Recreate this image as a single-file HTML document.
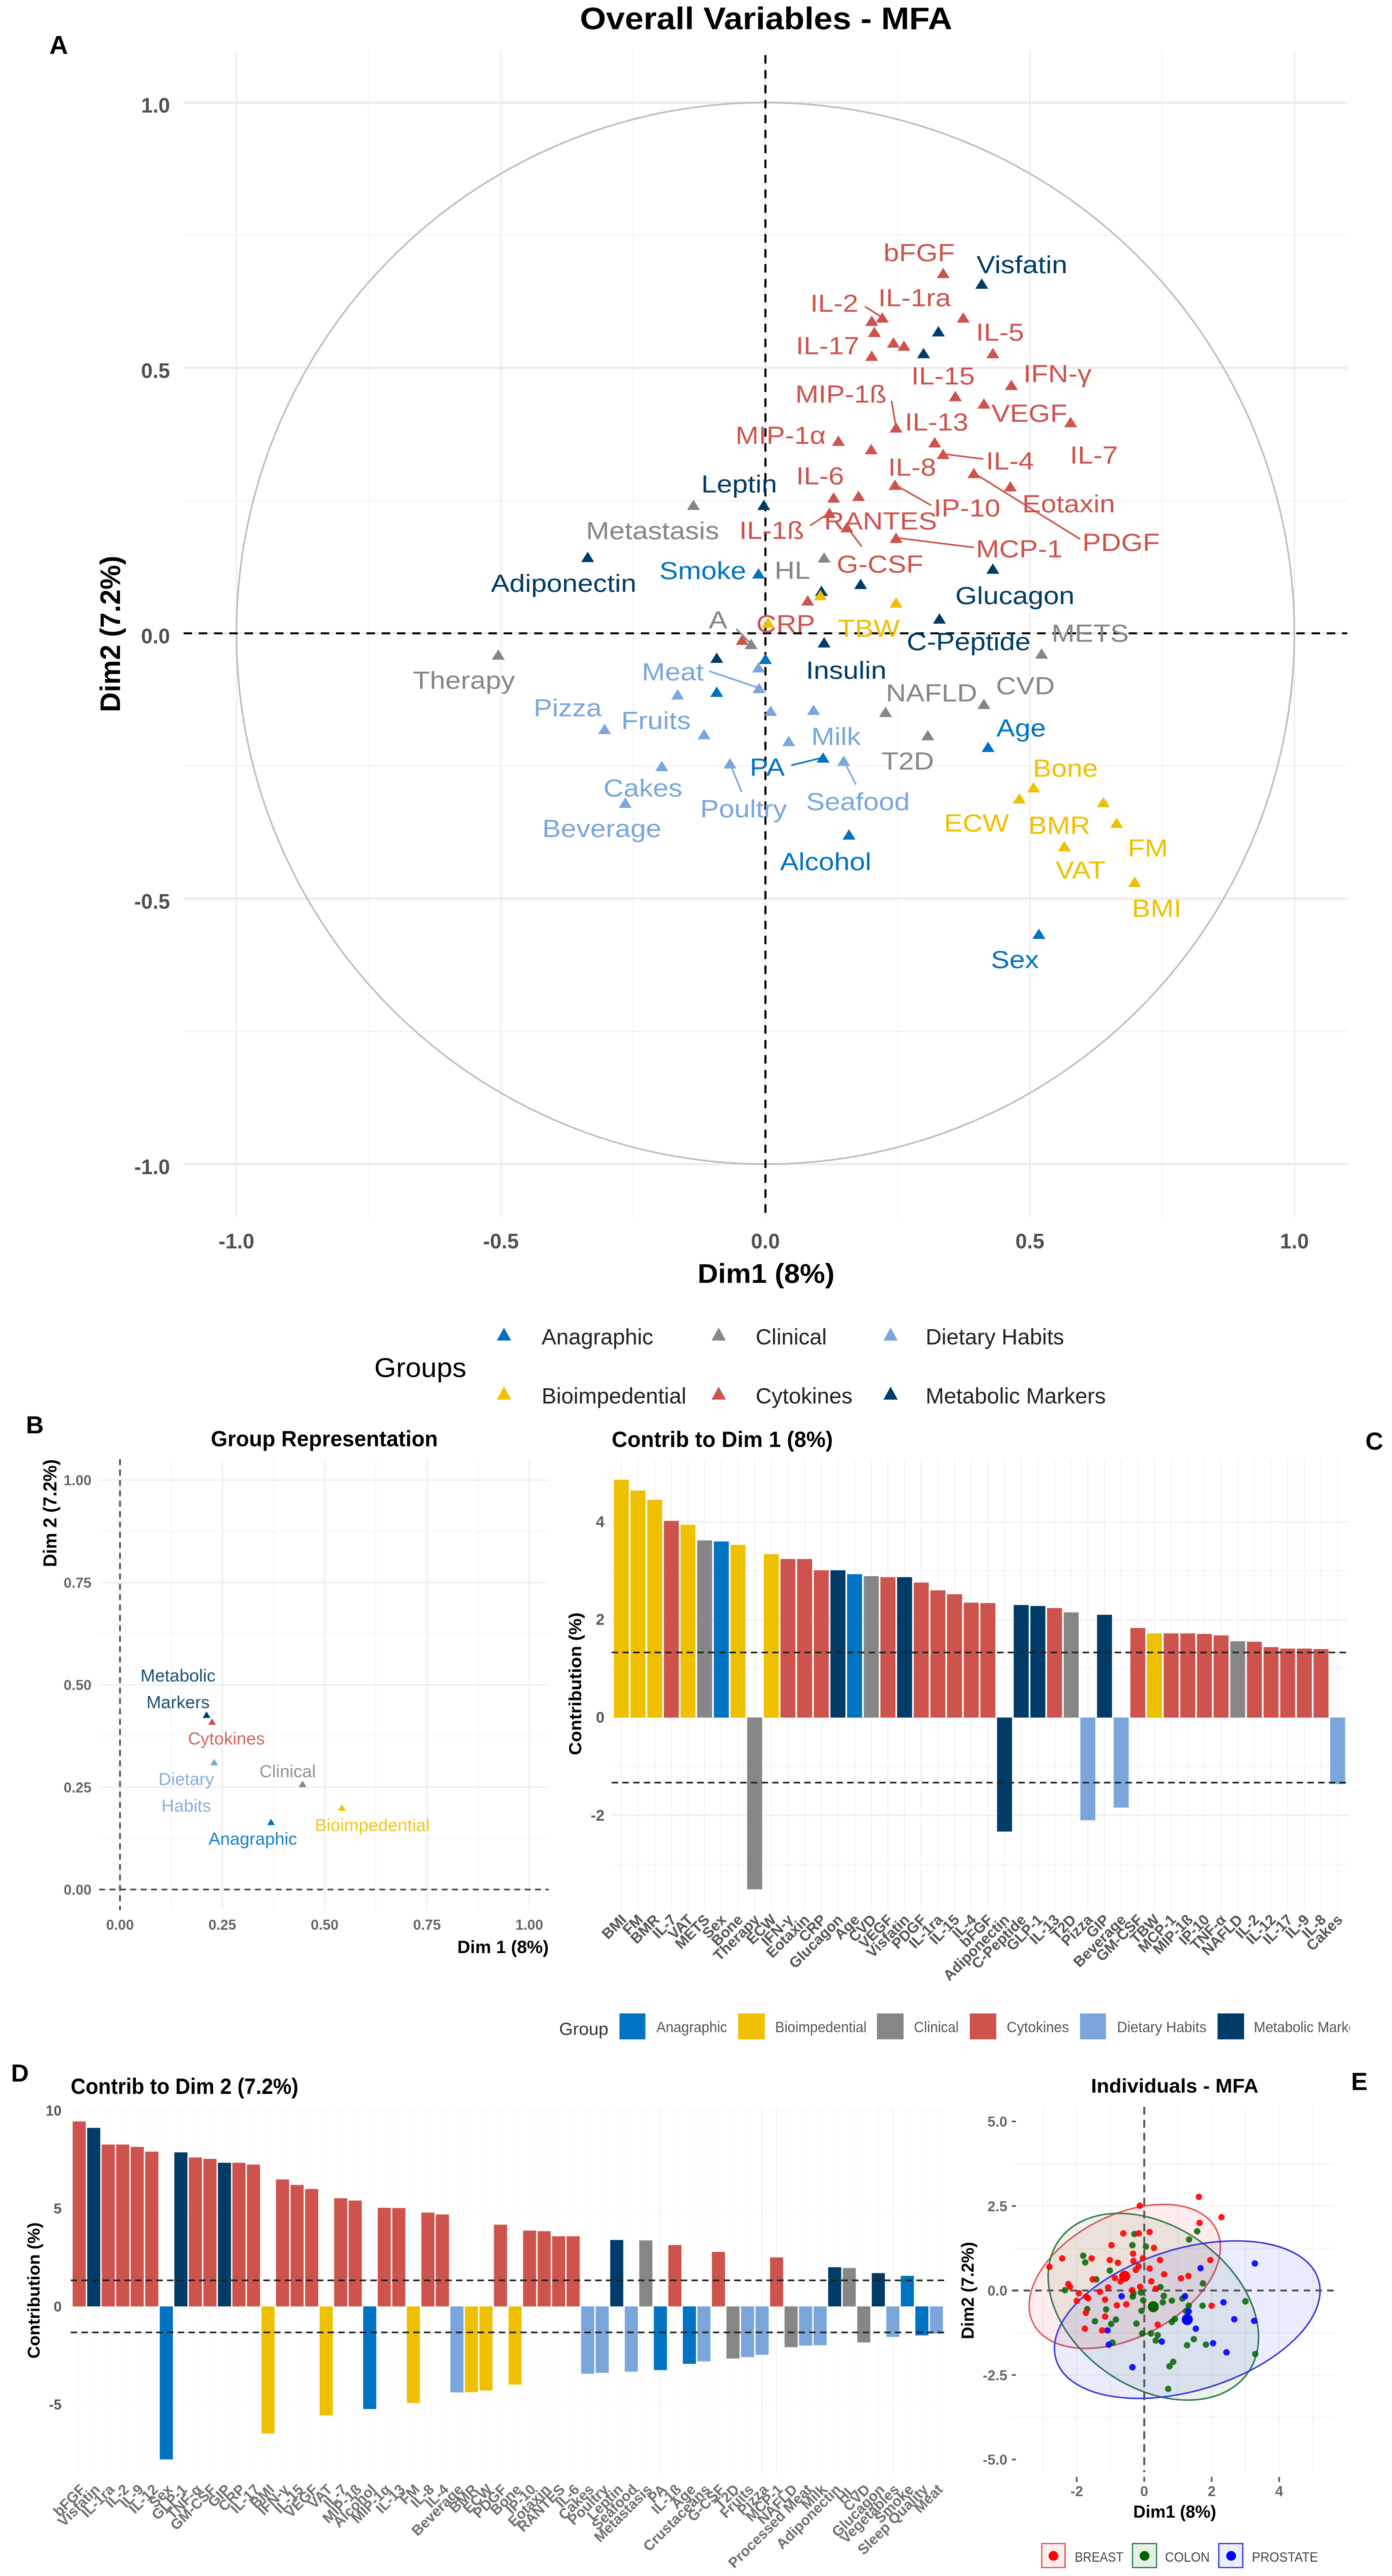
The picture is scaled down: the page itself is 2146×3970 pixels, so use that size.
<!DOCTYPE html>
<html lang="en">
<head>
<meta charset="utf-8">
<title>MFA figure</title>
<style>
html,body{margin:0;padding:0;background:#fff}
svg{display:block;font-family:"Liberation Sans",sans-serif;filter:blur(0.5px)}
</style>
</head>
<body>
<svg id="fig" xmlns="http://www.w3.org/2000/svg" width="2146" height="3970" viewBox="0 0 2146 3970">
<defs><clipPath id="legend-clip"><rect x="850" y="3090" width="1231" height="70"/></clipPath></defs>
<rect width="2146" height="3970" fill="#fff"/>

<g id="panelA"></g>
<text x="1181" y="45" text-anchor="middle" font-size="48" font-weight="bold" textLength="574" lengthAdjust="spacingAndGlyphs">Overall Variables - MFA</text>
<text x="76" y="83" font-size="40" font-weight="bold">A</text>
<text transform="translate(185,977) rotate(-90)" text-anchor="middle" font-size="44" font-weight="bold" textLength="241" lengthAdjust="spacingAndGlyphs">Dim2 (7.2%)</text>
<text x="1181" y="1977" text-anchor="middle" font-size="42" font-weight="bold" textLength="211" lengthAdjust="spacingAndGlyphs">Dim1 (8%)</text>
<text x="577" y="2122" font-size="42" textLength="142" lengthAdjust="spacingAndGlyphs">Groups</text>

<g id="panelB"></g>
<text x="40" y="2209" font-size="38" font-weight="bold">B</text>
<text x="500" y="2229" text-anchor="middle" font-size="34" font-weight="bold" textLength="350" lengthAdjust="spacingAndGlyphs">Group Representation</text>
<text transform="translate(87,2332) rotate(-90)" text-anchor="middle" font-size="29" font-weight="bold" textLength="166" lengthAdjust="spacingAndGlyphs">Dim 2 (7.2%)</text>
<text x="846" y="3010" text-anchor="end" font-size="28" font-weight="bold" textLength="141" lengthAdjust="spacingAndGlyphs">Dim 1 (8%)</text>

<g id="panelC"></g>
<text x="943" y="2230" font-size="34" font-weight="bold" textLength="341" lengthAdjust="spacingAndGlyphs">Contrib to Dim 1 (8%)</text>
<text x="2105" y="2234" font-size="38" font-weight="bold">C</text>
<text transform="translate(896,2595) rotate(-90)" text-anchor="middle" font-size="27" font-weight="bold" textLength="220" lengthAdjust="spacingAndGlyphs">Contribution (%)</text>
<g font-size="23" fill="#555">
  <text x="862" y="3136" font-size="27" fill="#333" textLength="76" lengthAdjust="spacingAndGlyphs">Group</text>
  <rect x="955" y="3103" width="40" height="40" fill="#0073C2"/>
  <text x="1012" y="3132" textLength="109" lengthAdjust="spacingAndGlyphs">Anagraphic</text>
  <rect x="1138" y="3103" width="41" height="40" fill="#EFC000"/>
  <text x="1195" y="3132" textLength="141" lengthAdjust="spacingAndGlyphs">Bioimpedential</text>
  <rect x="1352" y="3103" width="41" height="40" fill="#868686"/>
  <text x="1409" y="3132" textLength="69" lengthAdjust="spacingAndGlyphs">Clinical</text>
  <rect x="1495" y="3103" width="41" height="40" fill="#CD534C"/>
  <text x="1552" y="3132" textLength="96" lengthAdjust="spacingAndGlyphs">Cytokines</text>
  <rect x="1665" y="3103" width="40" height="40" fill="#7AA6DC"/>
  <text x="1722" y="3132" textLength="138" lengthAdjust="spacingAndGlyphs">Dietary Habits</text>
  <rect x="1877" y="3103" width="41" height="40" fill="#003C67"/>
  <g clip-path="url(#legend-clip)"><text x="1933" y="3132" textLength="176" lengthAdjust="spacingAndGlyphs">Metabolic Markers</text></g>
</g>

<g id="panelD"></g>
<text x="17" y="3208" font-size="38" font-weight="bold">D</text>
<text x="109" y="3227" font-size="34" font-weight="bold" textLength="351" lengthAdjust="spacingAndGlyphs">Contrib to Dim 2 (7.2%)</text>
<text transform="translate(61,3530) rotate(-90)" text-anchor="middle" font-size="26" font-weight="bold" textLength="210" lengthAdjust="spacingAndGlyphs">Contribution (%)</text>

<g id="panelE"></g>
<text x="2083" y="3221" font-size="38" font-weight="bold">E</text>
<text x="1811" y="3225" text-anchor="middle" font-size="31" font-weight="bold" textLength="258" lengthAdjust="spacingAndGlyphs">Individuals - MFA</text>
<text x="1811" y="3880" text-anchor="middle" font-size="27" font-weight="bold" textLength="128" lengthAdjust="spacingAndGlyphs">Dim1 (8%)</text>
<text transform="translate(1501,3530) rotate(-90)" text-anchor="middle" font-size="27" font-weight="bold" textLength="150" lengthAdjust="spacingAndGlyphs">Dim2 (7.2%)</text>
<g font-size="21" fill="#444">
  <rect x="1606" y="3920" width="36" height="37" fill="#ffeeee" stroke="#e05a5a" stroke-width="2"/>
  <circle cx="1624" cy="3939" r="7.5" fill="#f00"/>
  <text x="1657" y="3948" textLength="75" lengthAdjust="spacingAndGlyphs">BREAST</text>
  <rect x="1746" y="3920" width="37" height="37" fill="#e6f0e6" stroke="#2e7d4a" stroke-width="2"/>
  <circle cx="1764.5" cy="3939" r="7.5" fill="#006400"/>
  <text x="1796" y="3948" textLength="69" lengthAdjust="spacingAndGlyphs">COLON</text>
  <rect x="1879" y="3920" width="37" height="37" fill="#eaeeff" stroke="#3a3add" stroke-width="2"/>
  <circle cx="1898" cy="3939" r="7.5" fill="#00f"/>
  <text x="1930" y="3948" textLength="102" lengthAdjust="spacingAndGlyphs">PROSTATE</text>
</g>
</svg>

<script>
/* ---------- shared data ---------- */
const groupNames = ["Anagraphic","Bioimpedential","Clinical","Cytokines","Dietary Habits","Metabolic Markers"];
const groupColors = {A:"#0073C2",B:"#EFC000",C:"#868686",Y:"#CD534C",D:"#7AA6DC",M:"#003C67"};

/* ---------- panel A data ---------- */
const varNames = ["bFGF","IL-2","IL-1ra","GM-CSF","IL-9","IL-12","TNF-a","IL-17","IL-5","IFN-γ","IL-15","VEGF","IL-7","MIP-1ß","MIP-1α","IL-8","IL-13","IL-4","Eotaxin","PDGF","IP-10","IL-6","RANTES","IL-1ß","G-CSF","MCP-1","CRP","IL-10",
"Visfatin","GLP-1","GIP","Leptin","Adiponectin","Glucagon","Resistin","PAI-1","C-Peptide","Insulin","Adipsin",
"TBW","ICW","FFM","Bone","ECW","BMR","FM","VAT","BMI",
"Metastasis","HL","METS","A","Therapy","NAFLD","CVD","T2D",
"Smoke","Sleep Quality","Education","Age","PA","Alcohol","Sex",
"Vegetables","Meat","Crustaceans","Processed Meat","Legumes","Pizza","Fruits","Milk","Seafood","Poultry","Cakes","Beverage"];
const varGroups = ["Y","Y","Y","Y","Y","Y","Y","Y","Y","Y","Y","Y","Y","Y","Y","Y","Y","Y","Y","Y","Y","Y","Y","Y","Y","Y","Y","Y",
"M","M","M","M","M","M","M","M","M","M","M",
"B","B","B","B","B","B","B","B","B",
"C","C","C","C","C","C","C","C",
"A","A","A","A","A","A","A",
"D","D","D","D","D","D","D","D","D","D","D","D"];
const varDim1 = [.336,.221,.201,.374,.206,.242,.262,.201,.430,.465,.359,.413,.577,.247,.138,.200,.320,.336,.463,.394,.245,.129,.176,.121,.154,.247,.08,-.044,
.409,.327,.299,-.003,-.336,.43,.106,.18,.329,.111,-.092,
.247,.104,.005,.507,.48,.639,.664,.565,.698,
-.136,.111,.522,-.027,-.505,.227,.413,.307,
-.013,0,-.092,.421,.109,.158,.517,
-.013,-.012,-.166,.01,.091,-.304,-.116,.044,.148,-.067,-.196,-.265];
const varDim2 = [.679,.595,.589,.595,.568,.548,.542,.523,.528,.468,.447,.433,.398,.388,.363,.347,.360,.338,.277,.302,.280,.256,.259,.227,.2,.18,.062,-.012,
.659,.569,.528,.242,.144,.122,.08,.093,.028,-.017,-.046,
.058,.072,.02,-.29,-.311,-.318,-.357,-.401,-.468,
.242,.143,-.038,-.02,-.04,-.148,-.133,-.192,
.113,-.048,-.11,-.214,-.234,-.379,-.566,
-.064,-.103,-.115,-.146,-.144,-.18,-.19,-.203,-.24,-.245,-.25,-.319];

/* ---------- panel B data ---------- */
const groupDim1 = [.369,.542,.446,.225,.23,.2115];
const groupDim2 = [.165,.2,.258,.41,.311,.427];

/* ---------- panel C data ---------- */
const dim1Names = ["BMI","FM","BMR","IL-7","VAT","METS","Sex","Bone","Therapy","ECW","IFN-γ","Eotaxin","CRP","Glucagon","Age","CVD","VEGF","Visfatin","PDGF","IL-1ra","IL-15","IL-4","bFGF","Adiponectin","C-Peptide","GLP-1","IL-13","T2D","Pizza","GIP","Beverage","GM-CSF","TBW","MCP-1","MIP-1ß","IP-10","TNF-α","NAFLD","IL-2","IL-12","IL-17","IL-9","IL-8","Cakes"];
const dim1Groups = ["B","B","B","Y","B","C","A","B","C","B","Y","Y","Y","M","A","C","Y","M","Y","Y","Y","Y","Y","M","M","M","Y","C","D","M","D","Y","B","Y","Y","Y","Y","C","Y","Y","Y","Y","Y","D"];
const dim1Values = [4.86,4.64,4.45,4.02,3.94,3.62,3.6,3.53,-3.51,3.34,3.24,3.24,3.01,3.01,2.93,2.89,2.87,2.87,2.76,2.6,2.52,2.35,2.34,-2.33,2.3,2.28,2.24,2.15,-2.1,2.1,-1.84,1.83,1.72,1.72,1.72,1.71,1.68,1.56,1.55,1.44,1.41,1.41,1.4,-1.36];
const dim1Ticks = [-2,0,2,4];
const dim1Minor = [-3,-1,1,3];
const dim1Threshold = 1.33;

/* ---------- panel D data ---------- */
const dim2Names = ["bFGF","Visfatin","IL-1ra","IL-2","IL-9","IL-12","Sex","GLP-1","TNF-α","GM-CSF","GIP","CRP","IL-17","BMI","IFN-γ","IL-15","VEGF","VAT","IL-7","MIP-1ß","Alcohol","MIP-1α","IL-13","FM","IL-8","IL-4","Beverage","BMR","ECW","PDGF","Bone","IP-10","Eotaxin","RANTES","IL-6","Cakes","Poultry","Leptin","Seafood","Metastasis","PA","IL-1ß","Age","Crustaceans","G-CSF","T2D","Fruits","Pizza","MCP-1","NAFLD","Processed Meat","Milk","Adiponectin","HL","CVD","Glucagon","Vegetables","Smoke","Sleep Quality","Meat"];
const dim2Groups = ["Y","M","Y","Y","Y","Y","A","M","Y","Y","M","Y","Y","B","Y","Y","Y","B","Y","Y","A","Y","Y","B","Y","Y","D","B","B","Y","B","Y","Y","Y","Y","D","D","M","D","C","A","Y","A","D","Y","C","D","D","Y","C","D","D","M","C","C","M","D","A","A","D"];
const dim2Values = [9.44,9.11,8.26,8.26,8.14,7.9,-7.81,7.86,7.6,7.53,7.33,7.33,7.24,-6.49,6.48,6.2,5.99,-5.56,5.52,5.4,-5.24,5.03,5.02,-4.93,4.79,4.69,-4.39,-4.38,-4.29,4.17,-3.99,3.87,3.84,3.58,3.58,-3.44,-3.39,3.39,-3.33,3.37,-3.25,3.13,-2.93,-2.81,2.78,-2.66,-2.59,-2.47,2.5,-2.08,-2,-1.98,2,1.96,-1.84,1.7,-1.56,1.56,-1.48,-1.39];
const dim2Ticks = [-5,0,5,10];
const dim2Threshold = 1.33;

/* ---------- panel E data ---------- */
const breastX = [1.62,2.29,1.64,-.13,-.62,-.16,.16,-.97,-.33,.29,-1.56,-2.43,-2.81,-1.02,-.78,-.32,.47,1.96,-.04,-.25,.16,-.17,.59,1.31,1.09,-1.53,-.87,-.70,-2.25,-2.20,-1.94,-1.07,-.12,.34,-1.31,-.36,-1.66,-2.00,-1.16,-.81,-.53,2.00,-1.73,-1.16,-1.76,-1.25,.40,.21,-1.72];
const breastY = [2.77,2.17,2.00,2.51,1.69,1.69,1.73,1.34,1.09,1.26,.95,.95,.70,.90,.82,.87,.90,.90,.95,.61,.65,.72,.48,.43,.36,.33,.37,.27,.19,.11,-.08,.09,.11,.05,-.04,.01,-.23,-.31,-.27,-.44,-.41,-.45,-.66,-.77,-1.13,-1.18,-1.01,.27,-.18];
const colonX = [-.29,-.35,.05,-1.81,-1.75,-1.02,-1.42,-2.35,.48,-.34,-.10,-.32,.58,-.03,.55,.82,1.13,1.73,1.57,1.33,1.74,3.00,-1.69,-1.13,-.08,-.84,-1.46,-.98,-.23,-.06,.20,.40,.34,.91,.82,1.27,1.47,1.83,3.29,.86,.75,.71,-.94,1.32,1.24];
const colonY = [1.67,1.34,1.30,1.03,.83,.59,.33,.01,.10,-.18,-.06,-.08,-.16,-.29,-.35,-.30,-.24,-.45,1.75,1.51,.21,-.32,-.55,-.56,-.60,-.86,-.91,-.99,-.98,-1.27,-1.27,-1.32,-1.48,-.84,-.93,-1.62,-1.44,-1.60,-1.88,-2.11,-2.24,-2.91,-1.54,-.45,-.61];
const prostateX = [3.28,1.67,1.21,-.67,2.35,1.32,2.67,3.26,1.53,-1.09,.52,-1.05,2.04,2.44,-.35];
const prostateY = [.80,.66,-.17,-.17,-.35,-.62,-.85,-.90,-1.13,-1.18,-1.51,-1.60,-1.56,-1.83,-2.27];
const cohortNames = ["breast","colon","prostate"];
const cohortColors = ["#ff0000","#006400","#0000ff"];
const cohortEdge = ["#e4575a","#2f7a48","#3737dd"];
const centroidX = [-.58,.27,1.276];
const centroidY = [.42,-.48,-.86];
const ellipseCx = [-.577,.27,1.276];
const ellipseCy = [.417,-.48,-.862];
const ellipseMajor = [3.05,3.42,4.065];
const ellipseMinor = [1.81,2.38,2.10];
const ellipseTilt = [-27.3,34.9,-16.9];
const indXTicks = [-2,0,2,4];
const indXGrid = [-3,-2,-1,0,1,2,3,4,5];
const indYGrid = [-3.75,-2.5,-1.25,1.25,2.5,3.75];
const indYTicks = ["-5.0","-2.5","0.0","2.5","5.0"];

/* ---------- layout only: label placement relative to each mark, in px ---------- */
const labelNudge = {"bFGF":[-37,-31],"Visfatin":[62,-29],"IL-2":[-74,-22],"IL-1ra":[66,-35],"IL-5":[11,-32],"IL-17":[-68,-15],"IL-15":[-19,-31],"IFN-γ":[71,-17],"VEGF":[70,15],"IL-7":[36,51],"MIP-1ß":[-85,-51],"IL-13":[3,-31],"MIP-1α":[-89,-8],"IL-4":[103,11],"Eotaxin":[90,27],"PDGF":[227,107],"IL-8":[63,28],"IL-6":[-21,-33],"IP-10":[111,36],"IL-1ß":[-89,27],"RANTES":[34,39],"MCP-1":[190,17],"G-CSF":[51,57],"Leptin":[-38,-32],"Metastasis":[-63,40],"Adiponectin":[-37,41],"Smoke":[-86,-4],"HL":[-49,20],"Glucagon":[34,42],"CRP":[-34,36],"TBW":[-42,40],"A":[-51,-37],"C-Peptide":[45,36],"METS":[75,-31],"Insulin":[34,43],"Therapy":[-53,40],"Meat":[-133,-25],"NAFLD":[71,-29],"CVD":[64,-28],"Pizza":[-57,-32],"Fruits":[-74,-21],"Age":[51,-29],"Milk":[73,-7],"T2D":[-31,40],"PA":[-86,15],"Seafood":[22,63],"Poultry":[21,70],"Cakes":[-29,34],"Bone":[49,-29],"ECW":[-66,38],"BMR":[-68,36],"FM":[48,39],"VAT":[25,37],"BMI":[34,41],"Beverage":[-36,40],"Alcohol":[-36,42],"Sex":[-37,40]};
const leaderNudge = {"IL-2":[-27,-17],"MIP-1ß":[-7,-41],"IL-4":[62,8],"PDGF":[164,102],"IP-10":[56,32],"IL-1ß":[-30,20],"G-CSF":[23,30],"MCP-1":[120,15],"A":[-23,-23],"Meat":[-77,-26],"PA":[-49,12],"Seafood":[19,37],"Poultry":[18,44]};
const groupLabelNudge = [[[-28,25,"Anagraphic"]],[[47,26,"Bioimpedential"]],[[-23,-20,"Clinical"]],[[22,25,"Cytokines"]],[[-43,25,"Dietary"],[-43,66,"Habits"]],[[-44,-61,"Metabolic"],[-44,-20,"Markers"]]];
const dim2VisibleGrid = [40,47,48,55,56];

/* ---------- helpers ---------- */
const NS = "http://www.w3.org/2000/svg";
function mk(parent, tag, attrs, txt){
  const e = document.createElementNS(NS, tag);
  for (const k in attrs) e.setAttribute(k, attrs[k]);
  if (txt !== undefined) e.textContent = txt;
  parent.appendChild(e);
  return e;
}
function slug(s){ return String(s).toLowerCase().replace(/[^a-z0-9α-ωß]+/g,'-'); }
function tri(cx, cy, w, h){ return (cx)+","+(cy-h/2)+" "+(cx-w/2)+","+(cy+h/2)+" "+(cx+w/2)+","+(cy+h/2); }

/* ---------- panel A ---------- */
(function(){
  const g = document.getElementById('panelA');
  const ax = v => 1180 + v*815.5;
  const ay = v => 976 - v*818;
  const L=283,R=2077,T=78,B=1876;
  [-.75,-.25,.25,.75].forEach(v=>{
    const l = mk(g,'line',{x1:ax(v),x2:ax(v),y1:T,y2:B,stroke:'#f3f3f3','stroke-width':1.5});
    
    
    const m = mk(g,'line',{x1:L,x2:R,y1:ay(v),y2:ay(v),stroke:'#f3f3f3','stroke-width':2});
    
    
  });
  [-1,-.5,0,.5,1].forEach(v=>{
    const l = mk(g,'line',{x1:ax(v),x2:ax(v),y1:T,y2:B,stroke:'#ececec','stroke-width':2});
    
    
    const m = mk(g,'line',{x1:L,x2:R,y1:ay(v),y2:ay(v),stroke:'#ececec','stroke-width':3.5});
    
    
    const tx = mk(g,'text',{x:ax(v),y:1924,'text-anchor':'middle','font-size':32,'font-weight':'bold',fill:'#505050'},v.toFixed(1));
    
    
    const ty = mk(g,'text',{x:262,y:ay(v)+15.5,'text-anchor':'end','font-size':32,'font-weight':'bold',fill:'#505050'},v.toFixed(1));
    
    
  });
  const c = mk(g,'ellipse',{cx:ax(0),cy:ay(0),rx:815.5,ry:818,fill:'none',stroke:'#bdbdbd','stroke-width':2.5});
  
  
  const h = mk(g,'line',{x1:L,x2:R,y1:ay(0),y2:ay(0),stroke:'#000','stroke-width':3,'stroke-dasharray':'13 10.5'});
  
  
  const v0 = mk(g,'line',{x1:ax(0),x2:ax(0),y1:85,y2:B,stroke:'#000','stroke-width':3.2,'stroke-dasharray':'13 10'});
  
  
  varNames.forEach((n,i)=>{
    const col = groupColors[varGroups[i]], px = ax(varDim1[i]), py = ay(varDim2[i]);
    const p = mk(g,'polygon',{points:tri(px,py,20,16),fill:col});
    
    
    if (leaderNudge[n]){
      const s = mk(g,'line',{x1:px,y1:py,x2:px+leaderNudge[n][0],y2:py+leaderNudge[n][1],stroke:col,'stroke-width':2.5});
      
      
    }
    if (labelNudge[n]){
      const lx = px+labelNudge[n][0], ly = py+labelNudge[n][1]+13;
      const t = mk(g,'text',{transform:'translate('+lx+','+ly+') scale(1.13,1)','text-anchor':'middle','font-size':38,fill:col},n);
      
      
    }
  });
  const lgX = [777,1108,1373], lgText=[835,1165,1427];
  const lgRows = [["Anagraphic","Clinical","Dietary Habits"],["Bioimpedential","Cytokines","Metabolic Markers"]];
  const lgCols = [["A","C","D"],["B","Y","M"]];
  const lgY = [2060,2151];
  lgRows.forEach((row,r)=>row.forEach((name,c)=>{
    const m = mk(g,'polygon',{points:tri(lgX[c],lgY[r]-4,22,20),fill:groupColors[lgCols[r][c]]});
    
    
    const t = mk(g,'text',{x:lgText[c],y:lgY[r]+12,'font-size':34,fill:'#222'},name);
    
    
  }));
})();

/* ---------- panel B ---------- */
(function(){
  const g = document.getElementById('panelB');
  const bx = v => 185 + v*631;
  const by = v => 2912 - v*631;
  const L=153,R=846,T=2249,B=2944;
  [.125,.375,.625,.875].forEach(v=>{
    const a = mk(g,'line',{x1:bx(v),x2:bx(v),y1:T,y2:B,stroke:'#f5f5f5','stroke-width':1.5});
    
    
    const b = mk(g,'line',{x1:L,x2:R,y1:by(v),y2:by(v),stroke:'#f5f5f5','stroke-width':1.5});
    
    
  });
  [0,.25,.5,.75,1].forEach(v=>{
    const a = mk(g,'line',{x1:bx(v),x2:bx(v),y1:T,y2:B,stroke:'#eeeeee','stroke-width':2});
    
    
    const b = mk(g,'line',{x1:L,x2:R,y1:by(v),y2:by(v),stroke:'#eeeeee','stroke-width':2});
    
    
    const tx = mk(g,'text',{x:bx(v),y:2974,'text-anchor':'middle','font-size':22,'font-weight':'bold',fill:'#666'},v.toFixed(2));
    
    
    const ty = mk(g,'text',{x:141,y:by(v)+8,'text-anchor':'end','font-size':22,'font-weight':'bold',fill:'#666'},v.toFixed(2));
    
    
  });
  const h = mk(g,'line',{x1:L,x2:R,y1:by(0),y2:by(0),stroke:'#444','stroke-width':2.5,'stroke-dasharray':'9 7'});
  
  
  const v0 = mk(g,'line',{x1:bx(0),x2:bx(0),y1:T,y2:B,stroke:'#444','stroke-width':2.5,'stroke-dasharray':'9 7'});
  
  
  const keys = ["A","B","C","Y","D","M"];
  groupNames.forEach((n,i)=>{
    const col = groupColors[keys[i]], px = bx(groupDim1[i]), py = by(groupDim2[i]);
    const p = mk(g,'polygon',{points:tri(px,py,12,10),fill:col});
    
    
    groupLabelNudge[i].forEach(o=>{
      const t = mk(g,'text',{x:px+o[0],y:py+o[1]+10,'text-anchor':'middle','font-size':27,fill:col,'fill-opacity':.9},o[2]);
      
      
    });
  });
})();

/* ---------- bar charts (panels C, D) ---------- */
function drawBars(g, names, groups, values, band, yFn, barW, labelY, labelDx, fontSize, labelColor, L, R, T, B, threshold, prefix, gridColor, strongGrid){
  names.forEach((n,i)=>{
    const v = mk(g,'line',{x1:band(i),x2:band(i),y1:T,y2:B,stroke:strongGrid.indexOf(i)>=0?'#efefef':gridColor,'stroke-width':1.5});
    
    
  });
  values.forEach((val,i)=>{
    const y0 = yFn(0), y1 = yFn(val);
    const r = mk(g,'rect',{x:band(i)-barW/2,y:Math.min(y0,y1),width:barW,height:Math.abs(y1-y0),fill:groupColors[groups[i]]});
    
    
    const x = band(i)+labelDx;
    const t = mk(g,'text',{transform:'translate('+x+','+labelY+') rotate(-45)','text-anchor':'end','font-size':fontSize,'font-weight':'bold',fill:labelColor},names[i]);
    
    
  });
  [threshold,-threshold].forEach(v=>{
    const d = mk(g,'line',{x1:L,x2:R,y1:yFn(v),y2:yFn(v),stroke:'#222','stroke-width':2.5,'stroke-dasharray':'10 6.5'});
    
    
  });
}
/* panel C */
(function(){
  const g = document.getElementById('panelC');
  const cy = v => 2647 - v*75.4;
  const band = i => 942.6 + (i+.6)*25.68;
  const L=943,R=2079,T=2249,B=2944;
  dim1Minor.forEach(v=>{
    const l = mk(g,'line',{x1:L,x2:R,y1:cy(v),y2:cy(v),stroke:'#f5f5f5','stroke-width':1.5});
    
    
  });
  dim1Ticks.forEach(v=>{
    const l = mk(g,'line',{x1:L,x2:R,y1:cy(v),y2:cy(v),stroke:'#eeeeee','stroke-width':2});
    
    
    const t = mk(g,'text',{x:932,y:cy(v)+8,'text-anchor':'end','font-size':24,'font-weight':'bold',fill:'#5a5a5a'},v);
    
    
  });
  drawBars(g,dim1Names,dim1Groups,dim1Values,band,cy,23.1,2960,9,23,'#555',L,R,T,B,dim1Threshold,'dim1','#f1f1f1',[]);
})();
/* panel D */
(function(){
  const g = document.getElementById('panelD');
  const dy = v => 3554.5 - v*30.2;
  const band = i => 108.6 + (i+.6)*22.4;
  const L=109,R=1456,T=3247,B=3812;
  dim2Ticks.forEach(v=>{
    const l = mk(g,'line',{x1:L,x2:R,y1:dy(v),y2:dy(v),stroke:'#fafafa','stroke-width':1.5});
    
    
    const t = mk(g,'text',{x:95,y:dy(v)+8,'text-anchor':'end','font-size':22,'font-weight':'bold',fill:'#555'},v);
    
    
  });
  drawBars(g,dim2Names,dim2Groups,dim2Values,band,dy,20.2,3838,11,22.5,'#707070',L,R,T,B,dim2Threshold,'dim2','#fbfbfb',dim2VisibleGrid);
})();

/* ---------- panel E ---------- */
(function(){
  const g = document.getElementById('panelE');
  const ex = v => 1764 + v*52;
  const ey = v => 3530 - v*52.1;
  const L=1560,R=2058,T=3247,B=3810;
  indXGrid.forEach(v=>{
    const l = mk(g,'line',{x1:ex(v),x2:ex(v),y1:T,y2:B,stroke:'#f3f3f3','stroke-width':1.5});
    
    
  });
  indYGrid.forEach(v=>{
    const l = mk(g,'line',{x1:L,x2:R,y1:ey(v),y2:ey(v),stroke:'#f3f3f3','stroke-width':1.5});
    
    
  });
  indXTicks.forEach(v=>{
    const k = mk(g,'line',{x1:ex(v),x2:ex(v),y1:3817,y2:3825,stroke:'#555','stroke-width':2.5});
    
    
    const t = mk(g,'text',{x:ex(v),y:3847,'text-anchor':'middle','font-size':22,'font-weight':'bold',fill:'#666'},v);
    
    
  });
  indYTicks.forEach(s=>{
    const v = parseFloat(s);
    const k = mk(g,'line',{x1:1560,x2:1566,y1:ey(v),y2:ey(v),stroke:'#555','stroke-width':2.5});
    
    
    const t = mk(g,'text',{x:1553,y:ey(v)+8,'text-anchor':'end','font-size':22,'font-weight':'bold',fill:'#666'},s);
    
    
  });
  cohortNames.forEach((n,i)=>{
    const cx = ex(ellipseCx[i]), cy = ey(ellipseCy[i]);
    const e = mk(g,'ellipse',{cx:cx,cy:cy,rx:ellipseMajor[i]*52,ry:ellipseMinor[i]*52.1,transform:'rotate('+ellipseTilt[i]+' '+cx+' '+cy+')',fill:cohortColors[i],'fill-opacity':.075,stroke:cohortEdge[i],'stroke-width':2.3});
    
    
  });
  const h = mk(g,'line',{x1:L,x2:R,y1:ey(0),y2:ey(0),stroke:'#555','stroke-width':3,'stroke-dasharray':'10 8'});
  
  
  const v0 = mk(g,'line',{x1:ex(0),x2:ex(0),y1:T,y2:B,stroke:'#555','stroke-width':3,'stroke-dasharray':'12 8'});
  
  
  const xs = [breastX,colonX,prostateX], ys = [breastY,colonY,prostateY];
  [1,2,0].forEach(k=>{
    xs[k].forEach((x,i)=>{
      const c = mk(g,'circle',{cx:ex(x),cy:ey(ys[k][i]),r:5,fill:cohortColors[k],'fill-opacity':k===1?.85:.9});
      
      
    });
  });
  cohortNames.forEach((n,i)=>{
    const c = mk(g,'circle',{cx:ex(centroidX[i]),cy:ey(centroidY[i]),r:8.5,fill:cohortColors[i]});
    
    
  });
})();
</script>
</body>
</html>
